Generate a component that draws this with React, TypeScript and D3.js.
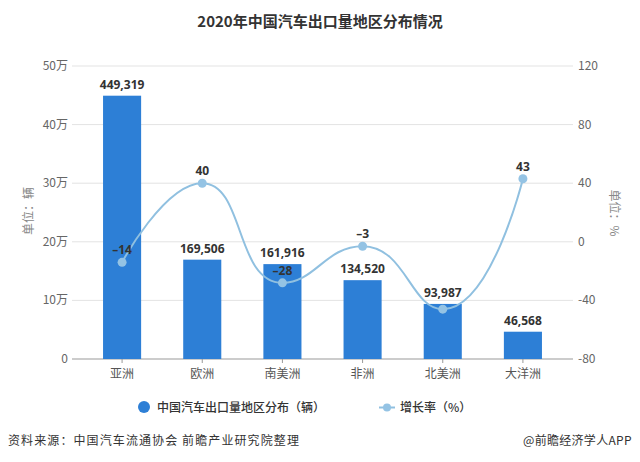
import React from "react";
import * as d3 from "d3";

const categories = ["亚洲", "欧洲", "南美洲", "非洲", "北美洲", "大洋洲"];
const exportVolume = [449319, 169506, 161916, 134520, 93987, 46568];
const growthRate = [-14, 40, -28, -3, -46, 43];
const growthLabelShown = [true, true, true, true, false, true];
const leftTicks = [0, 100000, 200000, 300000, 400000, 500000];
const leftTickLabels = ["0", "10万", "20万", "30万", "40万", "50万"];
const rightTicks = [-80, -40, 0, 40, 80, 120];

const W = 640;
const H = 462;
const gridLeft = 72;
const gridRight = 573;
const top = 66;
const bottom = 359;

const BAR = "#2d7fd6";
const LINE = "#90c0e0";
const DOT = "#94c3e4";
const CJK = "'Noto Sans CJK SC', 'Noto Sans', sans-serif";
const NUM = "'Open Sans', 'Noto Sans', sans-serif";

// ECharts-style smoothing curve (smooth = 0.5)
function echartsCurve(context: any) {
  let pts: [number, number][] = [];
  const smooth = 0.5;
  return {
    areaStart() {},
    areaEnd() {},
    lineStart() {
      pts = [];
    },
    point(x: number, y: number) {
      pts.push([+x, +y]);
    },
    lineEnd() {
      const n = pts.length;
      if (!n) return;
      let cpx0 = pts[0][0];
      let cpy0 = pts[0][1];
      context.moveTo(pts[0][0], pts[0][1]);
      for (let i = 1; i < n; i++) {
        const [x, y] = pts[i];
        const [prevX, prevY] = pts[i - 1];
        let cpx1 = x;
        let cpy1 = y;
        let nextCpx0 = x;
        let nextCpy0 = y;
        if (i + 1 < n) {
          const [nextX, nextY] = pts[i + 1];
          let vx = nextX - prevX;
          let vy = nextY - prevY;
          const dx0 = x - prevX, dy0 = y - prevY;
          const dx1 = nextX - x, dy1 = nextY - y;
          const lenPrev = Math.sqrt(dx0 * dx0 + dy0 * dy0);
          const lenNext = Math.sqrt(dx1 * dx1 + dy1 * dy1);
          const ratio = lenNext / (lenNext + lenPrev);
          nextCpx0 = x + vx * smooth * ratio;
          nextCpy0 = y + vy * smooth * ratio;
          nextCpx0 = Math.min(nextCpx0, Math.max(nextX, x));
          nextCpy0 = Math.min(nextCpy0, Math.max(nextY, y));
          nextCpx0 = Math.max(nextCpx0, Math.min(nextX, x));
          nextCpy0 = Math.max(nextCpy0, Math.min(nextY, y));
          vx = nextCpx0 - x;
          vy = nextCpy0 - y;
          cpx1 = x - (vx * lenPrev) / lenNext;
          cpy1 = y - (vy * lenPrev) / lenNext;
          cpx1 = Math.min(cpx1, Math.max(prevX, x));
          cpy1 = Math.min(cpy1, Math.max(prevY, y));
          cpx1 = Math.max(cpx1, Math.min(prevX, x));
          cpy1 = Math.max(cpy1, Math.min(prevY, y));
          vx = x - cpx1;
          vy = y - cpy1;
          nextCpx0 = x + (vx * lenNext) / lenPrev;
          nextCpy0 = y + (vy * lenNext) / lenPrev;
        }
        context.bezierCurveTo(cpx0, cpy0, cpx1, cpy1, x, y);
        cpx0 = nextCpx0;
        cpy0 = nextCpy0;
      }
    },
  };
}

const fmt = d3.format(",");
const fmtPct = (v: number) => (v < 0 ? "–" + Math.abs(v) : String(v));

export default function App() {
  const x = d3.scaleBand<string>().domain(categories).range([82, 563]).padding(0);
  const yL = d3.scaleLinear().domain([0, 500000]).range([bottom, top]);
  const yR = d3.scaleLinear().domain([-80, 120]).range([bottom, top]);
  const bw = x.bandwidth() * 0.475;
  const cx = (c: string) => (x(c) as number) + x.bandwidth() / 2;

  const line = d3
    .line<number>()
    .x((_, i) => cx(categories[i]))
    .y((d) => yR(d))
    .curve(echartsCurve as any);

  return (
    <div style={{ margin: -8 }}>
      <svg width={W} height={H} style={{ display: "block", background: "#fff" }}>
        <text x={320} y={27} textAnchor="middle" fontFamily={CJK} fontWeight="bold" fontSize={15} fill="#333">
          2020年中国汽车出口量地区分布情况
        </text>

        {leftTicks.map((t, i) => (
          <g key={"g" + t}>
            {i > 0 && (
              <line x1={gridLeft} x2={gridRight} y1={yL(t)} y2={yL(t)} stroke="#e3e3e3" strokeWidth={1} />
            )}
            <text x={68} y={yL(t) + 4} textAnchor="end" fontFamily={CJK} fontSize={12} fill="#666">
              {leftTickLabels[i]}
            </text>
          </g>
        ))}
        {rightTicks.map((t) => (
          <text key={"r" + t} x={578} y={yR(t) + 4} textAnchor="start" fontFamily={CJK} fontSize={12} fill="#666">
            {t}
          </text>
        ))}
        <line x1={gridLeft} x2={gridRight} y1={bottom} y2={bottom} stroke="#999" strokeWidth={1} />
        {categories.map((c) => (
          <g key={"x" + c}>
            <line x1={cx(c)} x2={cx(c)} y1={bottom} y2={bottom + 4} stroke="#999" />
            <text x={cx(c)} y={378} textAnchor="middle" fontFamily={CJK} fontSize={12} fill="#555">
              {c}
            </text>
          </g>
        ))}

        <text
          transform={`translate(27,211) rotate(-90)`}
          textAnchor="middle"
          dominantBaseline="central"
          fontFamily={CJK}
          fontSize={12}
          fill="#888"
        >
          单位：辆
        </text>
        <text
          transform={`translate(615,213) rotate(90)`}
          textAnchor="middle"
          dominantBaseline="central"
          fontFamily={CJK}
          fontSize={12}
          fill="#888"
        >
          单位：%
        </text>

        {categories.map((c, i) => (
          <rect
            key={"b" + c}
            x={cx(c) - bw / 2}
            y={yL(exportVolume[i])}
            width={bw}
            height={bottom - yL(exportVolume[i])}
            fill={BAR}
          />
        ))}

        <path d={line(growthRate) || ""} fill="none" stroke={LINE} strokeWidth={2} />
        {categories.map((c, i) => (
          <circle key={"d" + c} cx={cx(c)} cy={yR(growthRate[i])} r={4.5} fill={DOT} />
        ))}

        {categories.map((c, i) => (
          <text
            key={"bl" + c}
            x={cx(c)}
            y={yL(exportVolume[i]) - 7}
            textAnchor="middle"
            fontFamily={NUM}
            fontWeight="bold"
            fontSize={12}
            fill="#333"
          >
            {fmt(exportVolume[i])}
          </text>
        ))}
        {categories.map((c, i) =>
          growthLabelShown[i] ? (
            <text
              key={"ll" + c}
              x={cx(c)}
              y={yR(growthRate[i]) - 8}
              textAnchor="middle"
              fontFamily={NUM}
              fontWeight="bold"
              fontSize={12}
              fill="#333"
            >
              {fmtPct(growthRate[i])}
            </text>
          ) : null
        )}

        {/* legend */}
        <circle cx={144} cy={407} r={6} fill={BAR} />
        <text x={157} y={411.5} fontFamily={CJK} fontSize={12} fontWeight={500} fill="#333">
          中国汽车出口量地区分布（辆）
        </text>
        <line x1={379} x2={395} y1={407.5} y2={407.5} stroke={LINE} strokeWidth={2} />
        <circle cx={387} cy={407.5} r={4} fill={DOT} />
        <text x={400} y={411.5} fontFamily={CJK} fontSize={12} fontWeight={500} fill="#333">
          增长率（%）
        </text>

        {/* footer */}
        <text x={8} y={445} fontFamily={CJK} fontSize={12} fill="#333" letterSpacing={1.1}>
          资料来源：中国汽车流通协会 前瞻产业研究院整理
        </text>
        <text x={523} y={445} textAnchor="start" fontFamily={CJK} fontSize={12} fill="#333" letterSpacing={0.3}>
          @前瞻经济学人APP
        </text>
      </svg>
    </div>
  );
}
